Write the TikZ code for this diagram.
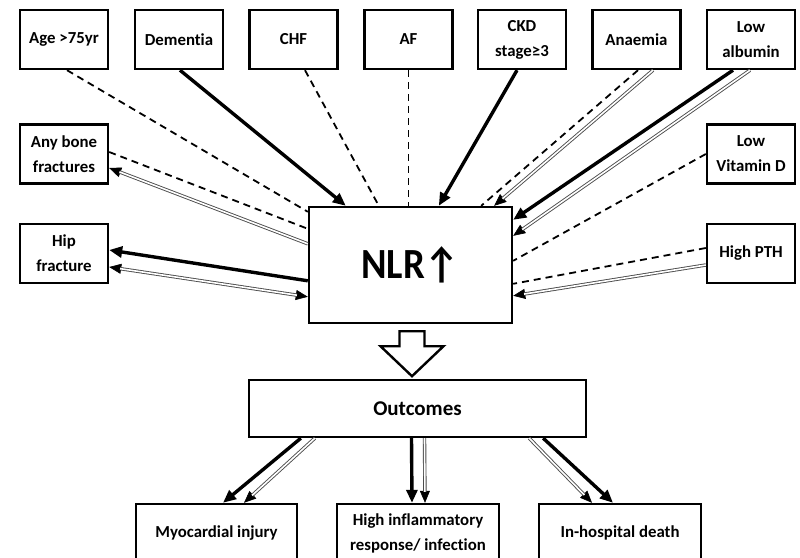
\documentclass[tikz,border=0pt]{standalone}
\usepackage{fontspec}
\setmainfont{Carlito}[Ligatures={NoCommon}]
\newfontfamily\nlrfont{Carlito}[FakeStretch=0.9]
\usetikzlibrary{arrows.meta,calc}
\newcommand{\dblto}[2]{%
  \draw[thinarr] #1 -- #2;
  \draw[dblline, shorten >=11pt] #1 -- #2;}
\newcommand{\dblboth}[2]{%
  \draw[thinboth] #1 -- #2;
  \draw[dblline, shorten >=11pt, shorten <=11pt] #1 -- #2;}
\begin{document}
\begin{tikzpicture}[x=1pt,y=-1pt,
  box/.style={draw, line width=2.4pt, minimum width=88pt, minimum height=59pt,
    inner sep=0pt, align=center, font=\fontsize{16.8}{25}\selectfont\bfseries},
  wbox/.style={box, minimum width=162pt, minimum height=58pt},
  solidarr/.style={line width=3.4pt, -{Triangle[length=13pt,width=11pt]}},
  dsh/.style={line width=1.8pt, dash pattern=on 7pt off 5pt},
  thinarr/.style={line width=0.6pt, -{Triangle[length=12pt,width=10pt]}},
  thinboth/.style={line width=0.6pt, {Triangle[length=12pt,width=10pt]}-{Triangle[length=12pt,width=10pt]}},
  dblline/.style={draw=black!70, line width=0.9pt, double=white, double distance=1.6pt},
]
\clip (0,0) rectangle (800,557);
\fill[white] (0,0) rectangle (800,557);

% top row
\node[box] (age) at (64,39.5) {Age >75yr};
\node[box] (dem) at (179,39.5) {Dementia};
\node[box] (chf) at (293.5,39.5) {CHF};
\node[box] (af)  at (408.5,39.5) {AF};
\node[box] (ckd) at (522,39.5) {CKD\\stage≥3};
\node[box] (ana) at (636.5,39.5) {Anaemia};
\node[box] (alb) at (751,39.5) {Low\\albumin};
% sides
\node[box] (bone) at (64,154) {Any bone\\fractures};
\node[box] (hip)  at (64,253.5) {Hip\\fracture};
\node[box] (vitd) at (751,154) {Low\\Vitamin D};
\node[box] (pth)  at (751,253.5) {High PTH};
% centre
\node[box, minimum width=203pt, minimum height=116pt, font=\nlrfont\fontsize{43}{46}\selectfont\bfseries] (nlr) at (410.5,265) {NLR↑};
\node[box, minimum width=337pt, minimum height=57pt, font=\fontsize{21}{26}\selectfont\bfseries] (out) at (417.5,408.5) {Outcomes};
% bottom
\node[wbox, minimum width=161pt] (myo) at (216.5,533) {Myocardial injury};
\node[wbox] (inf) at (418,533) {High inflammatory\\response/ infection};
\node[wbox] (death) at (620,533) {In-hospital death};

% block arrow
\draw[line width=2.4pt, fill=white, line join=miter]
  ($(nlr.south)+(-11,7)$) -- ($(nlr.south)+(14,7)$) -- ($(nlr.south)+(14,22)$)
  -- ($(nlr.south)+(33,22)$) -- ($(nlr.south)+(1.5,52)$) -- ($(nlr.south)+(-30,22)$)
  -- ($(nlr.south)+(-11,22)$) -- cycle;

% top connectors
\draw[dsh] ([xshift=3pt]age.south) -- ([yshift=-6pt]nlr.north west);
\draw[solidarr] ([xshift=1pt]dem.south) -- ([xshift=38pt]nlr.north west);
\draw[dsh] ([xshift=11.5pt]chf.south) -- ([xshift=71pt]nlr.north west);
\draw[dsh] (af.south) -- (af.south |- nlr.north);
\draw[solidarr] ([xshift=-5pt]ckd.south) -- ([xshift=131pt]nlr.north west);
\draw[dsh] ([xshift=1.5pt]ana.south) -- ([xshift=-32pt]nlr.north east);
\dblto{([xshift=16.5pt]ana.south)}{([xshift=-19pt]nlr.north east)}
\draw[solidarr] ([xshift=-18pt]alb.south) -- ([yshift=-14pt]nlr.north east);
\dblto{([xshift=-1pt]alb.south)}{([yshift=-30pt]nlr.north east)}
% right side
\draw[dsh] (vitd.west) -- ([yshift=-55pt]nlr.north east);
\draw[dsh] ([yshift=5.5pt]pth.west) -- ([yshift=-78pt]nlr.north east);
\dblto{([yshift=-11.5pt]pth.west)}{([yshift=-90pt]nlr.north east)}
% left side
\draw[dsh] ([yshift=2pt]bone.east) -- ([yshift=-23pt]nlr.north west);
\dblto{([yshift=-38pt]nlr.north west)}{([yshift=-14pt]bone.east)}
\draw[solidarr] ([yshift=-75pt]nlr.north west) -- ([yshift=3.5pt]hip.east);
\dblboth{([yshift=-13.5pt]hip.east)}{([yshift=-91pt]nlr.north west)}

% bottom connectors
\draw[solidarr] ([xshift=53pt]out.south west) -- ([xshift=6.5pt]myo.north);
\dblto{([xshift=67pt]out.south west)}{([xshift=27.5pt]myo.north)}
\draw[solidarr] ([xshift=-6pt]out.south) -- ([xshift=-6pt]inf.north);
\dblto{([xshift=7pt]out.south)}{([xshift=7pt]inf.north)}
\dblto{([xshift=-58pt]out.south east)}{([xshift=-28pt]death.north)}
\draw[solidarr] ([xshift=-44pt]out.south east) -- ([xshift=-7pt]death.north);
\end{tikzpicture}
\end{document}
